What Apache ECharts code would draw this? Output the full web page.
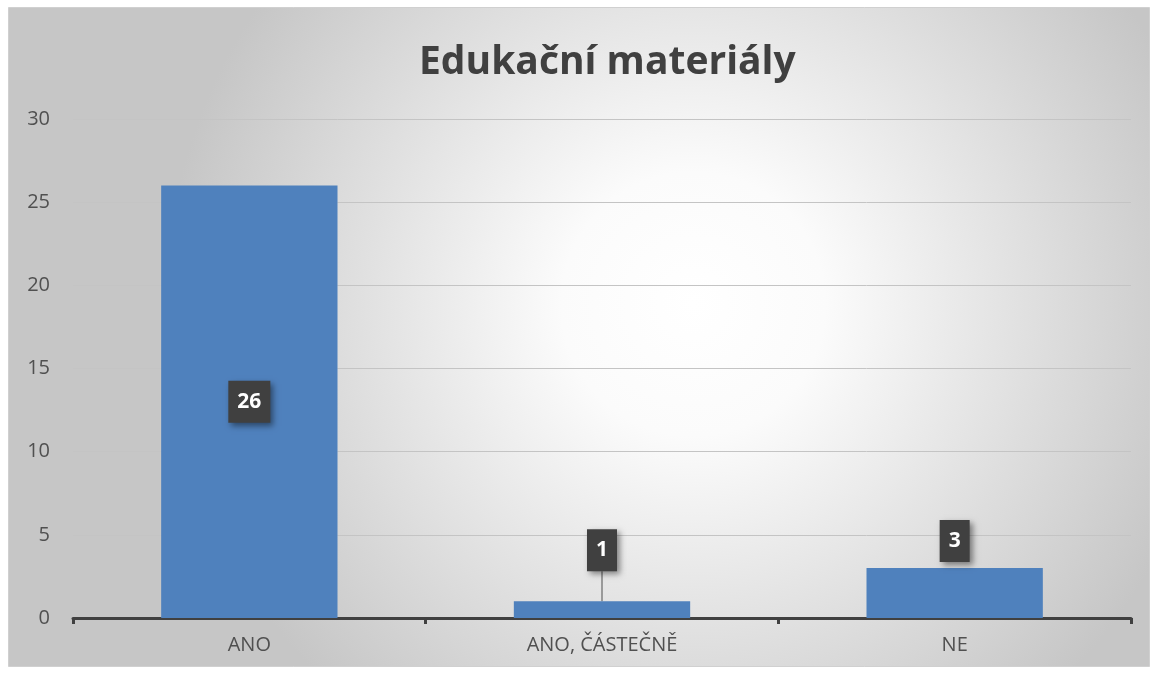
<!DOCTYPE html>
<html><head><meta charset="utf-8">
<script src="https://cdn.jsdelivr.net/npm/echarts@6/dist/echarts.min.js"></script>
<style>html,body{margin:0;padding:0;background:#fff}#c{width:1159px;height:674px}</style>
</head><body><div id="c"></div>
<script>
const title = 'Edukační materiály';
const categories = ['ANO', 'ANO, ČÁSTEČNĚ', 'NE'];
const values = [26, 1, 3];
const yTicks = [0, 5, 10, 15, 20, 25, 30];

const chart = echarts.init(document.getElementById('c'));
const labelBox = {
  show: true, color: '#fff', fontFamily: 'Open Sans', fontWeight: 'bold', fontSize: 21,
  backgroundColor: '#404040', padding: [9, 9], lineHeight: 24,
  shadowColor: 'rgba(0,0,0,0.45)', shadowBlur: 6, shadowOffsetX: 3, shadowOffsetY: 3
};
const data = values.map((v, i) => {
  if (i === 0) return { value: v, label: Object.assign({}, labelBox, { position: 'inside' }) };
  if (i === 1) return { value: v, label: Object.assign({}, labelBox, { position: 'top', distance: 6 }),
    labelLine: { show: true, lineStyle: { color: '#808080', width: 1.5 } } };
  return { value: v, label: Object.assign({}, labelBox, { position: 'top', distance: 6 }) };
});
chart.setOption({
  animation: false,
  graphic: [{
    type: 'rect', z: -10, silent: true,
    shape: { x: 8.5, y: 7.5, width: 1141, height: 659 },
    style: {
      fill: new echarts.graphic.RadialGradient(0.6, 0.45, 0.8, [
        { offset: 0, color: '#ffffff' }, { offset: 0.25, color: '#fbfbfb' }, { offset: 1, color: '#c6c6c6' }
      ]),
      stroke: '#d0d0d0', lineWidth: 1
    }
  }],
  title: {
    text: title, left: 414, top: 38,
    textStyle: { fontFamily: 'Open Sans', fontWeight: 'bold', fontSize: 39, color: '#404040' }
  },
  grid: { left: 73, right: 28, top: 119, bottom: 56, containLabel: false },
  xAxis: {
    type: 'category', data: categories,
    axisLine: { lineStyle: { color: '#404040', width: 3 } },
    axisTick: { show: true, length: 6, lineStyle: { color: '#404040', width: 3 } },
    axisLabel: { color: '#505050', fontFamily: 'Open Sans', fontSize: 20, margin: 17 }
  },
  yAxis: {
    type: 'value', min: 0, max: 30, interval: 5,
    axisLine: { show: false }, axisTick: { show: false },
    axisLabel: { color: '#505050', fontFamily: 'Open Sans', fontSize: 20, margin: 23,
      formatter: v => yTicks.includes(v) ? String(v) : '' },
    splitLine: { lineStyle: { color: '#c4c4c4', width: 1 } }
  },
  series: [{
    type: 'bar', data: data, barWidth: '50%',
    itemStyle: { color: '#4f81bd' },
    labelLayout: p => p.dataIndex === 1 ? { dy: -24 } : null
  }]
});
</script></body></html>
